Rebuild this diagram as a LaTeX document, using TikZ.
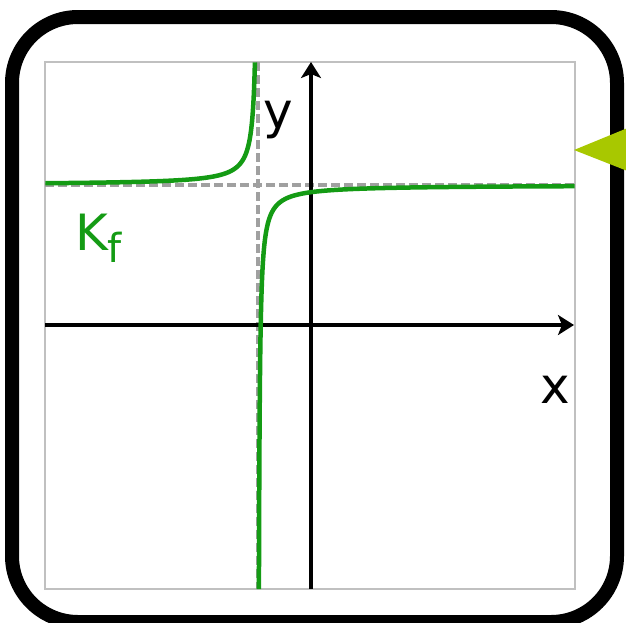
\documentclass[tikz,border=0pt]{standalone}
\usepackage{fontspec}
\setmainfont{DejaVu Sans}
\usetikzlibrary{arrows.meta}
\definecolor{kgreen}{RGB}{20,155,20}
\definecolor{pointergreen}{RGB}{168,200,0}
\definecolor{boxgray}{RGB}{192,192,192}
\definecolor{asymgray}{RGB}{160,160,160}
\tikzset{frame/.style={draw,line width=14pt,rounded corners=66pt},
  plotbox/.style={draw=boxgray,line width=2pt},
  asym/.style={draw=asymgray,line width=3.5pt,dash pattern=on 9pt off 4pt},
  axis/.style={-{Stealth[length=16pt,width=20pt,inset=4pt]},line width=4.5pt},
  curve/.style={draw=kgreen,line width=4.5pt,smooth,samples=120},
  lbl/.style={anchor=base,inner sep=0pt,font=\fontsize{50}{60}\selectfont}}

\begin{document}
\begin{tikzpicture}[x=1pt,y=-1pt]
\useasboundingbox (0,0) rectangle (626,622);
\draw[frame] (12,17) rectangle (617,622);
\draw[plotbox] (45,62) rectangle (575,589);
% asymptotes
\coordinate (vtop) at (258,62); \coordinate (vbot) at (258,589);
\coordinate (hleft) at (45,185); \coordinate (hright) at (575,185);
\draw[asym] (vtop) -- (vbot);
\draw[asym] (hleft) -- (hright);
% axes
\coordinate (xleft) at (45,325); \coordinate (xright) at (574,325);
\coordinate (ybot) at (311,589); \coordinate (ytop) at (311,62);
\draw[axis] (xleft) -- (xright);
\draw[axis] (ybot) -- (ytop);
% hyperbola
\draw[curve] plot[domain=1.131:5.361] ({258-exp(\x)},{185-380/exp(\x)});
\draw[curve] plot[domain=-0.062:5.759] ({258+exp(\x)},{185+380/exp(\x)});
% labels
\node[lbl] (ylab) at (278,128) {y};
\node[lbl] (xlab) at (555,403) {x};
\node[lbl,anchor=base west,text=kgreen] (kf) at (75,250) {K\raisebox{-12pt}{\fontsize{40}{40}\selectfont f}};
% pointer
\fill[pointergreen] (574,150) -- (630,127) -- (630,172) -- cycle;
\end{tikzpicture}
\end{document}
